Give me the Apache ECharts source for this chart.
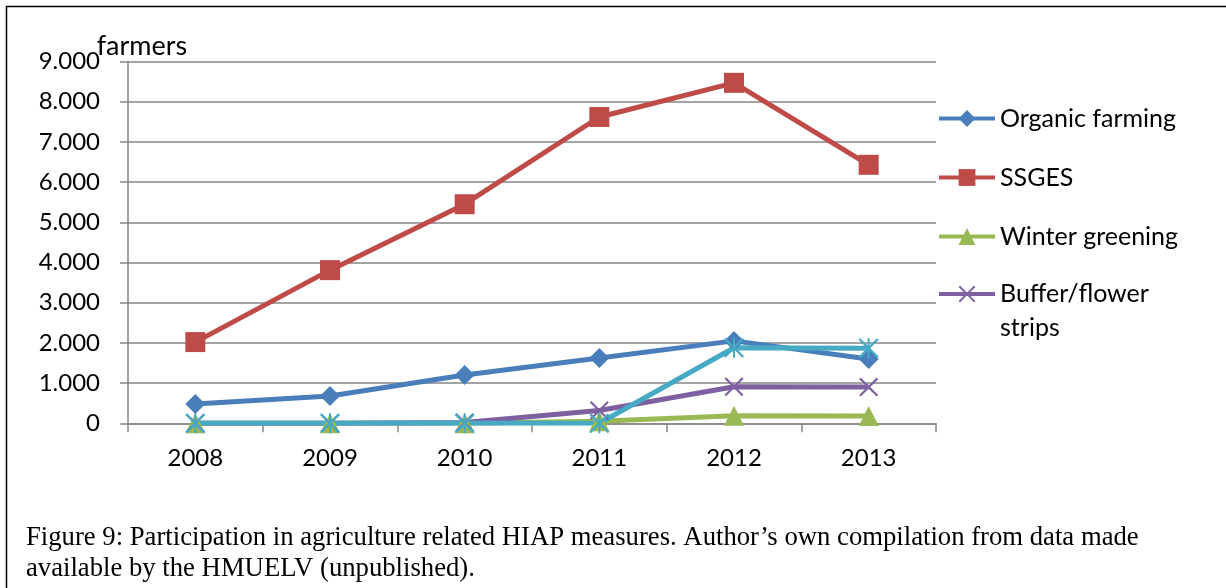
<!DOCTYPE html>
<html>
<head>
<meta charset="utf-8">
<script src="https://cdn.jsdelivr.net/npm/echarts@6/dist/echarts.min.js"></script>
<style>
html,body{margin:0;padding:0;background:#fff;}
#c{width:1226px;height:588px;}
</style>
</head>
<body>
<div id="c"></div>
<script>
const years = ['2008', '2009', '2010', '2011', '2012', '2013'];
const organicFarming = [480, 680, 1200, 1625, 2050, 1600];
const ssges = [2020, 3810, 5450, 7620, 8470, 6430];
const winterGreening = [0, 0, 0, 50, 190, 180];
const bufferStrips = [0, 0, 20, 320, 910, 900];
const fifthSeries = [0, 0, 0, 0, 1880, 1870];
const yTicks = [0, 1000, 2000, 3000, 4000, 5000, 6000, 7000, 8000, 9000];
const seriesNames = ['Organic farming', 'SSGES', 'Winter greening', 'Buffer/flower strips', 'Series 5'];
const captionLines = [
  'Figure 9: Participation in agriculture related HIAP measures. Author\u2019s own compilation from data made',
  'available by the HMUELV (unpublished).'
];

const FONT = 'Lato';
const xPath = 'path://M0,8L8,0L50,42L92,0L100,8L58,50L100,92L92,100L50,58L8,100L0,92L42,50Z';
const starPath = 'path://M0,8L8,0L50,42L92,0L100,8L58,50L100,92L92,100L50,58L8,100L0,92L42,50ZM45,0L55,0L55,100L45,100Z';

function fmt(v) {
  if (v === 0) return '0';
  const s = String(v);
  return s.slice(0, s.length - 3) + '.' + s.slice(s.length - 3);
}

const colors = ['#4A7EBB', '#BE4B48', '#98B954', '#7D60A0', '#46AAC5'];
const symbols = ['diamond', 'rect', 'triangle', xPath, starPath];
const sizes = [20, 20, 20, 19, 20];
const datasets = [organicFarming, ssges, winterGreening, bufferStrips, fifthSeries];

const legendCenters = [118, 177, 236, 294];
const legends = seriesNames.slice(0, 4).map((n, i) => {
  const multi = n === 'Buffer/flower strips';
  return {
    data: [n],
    left: 937,
    top: multi ? legendCenters[i] - 51 : legendCenters[i] - 12,
    padding: 0,
    orient: 'vertical',
    itemWidth: 56,
    itemHeight: 21,
    selectedMode: false,
    lineStyle: { width: 4 },
    formatter: multi ? '\nBuffer/flower\nstrips' : '{name}',
    textStyle: multi
      ? { fontFamily: FONT, fontSize: 25, color: '#000', lineHeight: 34 }
      : { fontFamily: FONT, fontSize: 25, color: '#000' }
  };
});

const option = {
  animation: false,
  backgroundColor: '#fff',
  grid: { left: 128, right: 290, top: 61.5, bottom: 164.7, containLabel: false },
  legend: legends,
  xAxis: {
    type: 'category',
    data: years,
    boundaryGap: true,
    axisLine: { show: true, lineStyle: { color: '#868686', width: 1.5 } },
    axisTick: { show: true, length: 9, lineStyle: { color: '#868686', width: 1.5 } },
    axisLabel: { fontFamily: FONT, fontSize: 24, color: '#000', margin: 23 },
    splitLine: { show: false }
  },
  yAxis: {
    type: 'value',
    min: 0,
    max: 9000,
    interval: 1000,
    name: 'farmers',
    nameLocation: 'end',
    nameGap: 2,
    nameMoveOverlap: false,
    nameTextStyle: { fontFamily: FONT, fontSize: 27, color: '#000', align: 'center', padding: [0, 0, 0, 28] },
    axisLine: { show: true, lineStyle: { color: '#868686', width: 1.5 } },
    axisTick: { show: true, length: 8, lineStyle: { color: '#868686', width: 1.5 } },
    axisLabel: {
      fontFamily: FONT, fontSize: 24, color: '#000', margin: 28,
      formatter: function (v) { return yTicks.indexOf(v) >= 0 ? fmt(v) : ''; }
    },
    splitLine: { show: true, lineStyle: { color: '#868686', width: 1.5 } }
  },
  series: datasets.map((d, i) => ({
    name: seriesNames[i],
    type: 'line',
    data: d,
    symbol: symbols[i],
    symbolSize: sizes[i],
    showAllSymbol: true,
    lineStyle: { color: colors[i], width: 5 },
    itemStyle: { color: colors[i] },
    emphasis: { disabled: true }
  })),
  graphic: [
    {
      type: 'rect',
      shape: { x: 6.5, y: 6.5, width: 1300, height: 700 },
      style: { fill: 'none', stroke: '#000', lineWidth: 1.5 },
      silent: true
    },
    {
      type: 'text',
      left: 26,
      top: 524,
      style: { text: captionLines[0], font: '26.7px "Liberation Serif"', fill: '#000' }
    },
    {
      type: 'text',
      left: 26,
      top: 555,
      style: { text: captionLines[1], font: '26.7px "Liberation Serif"', fill: '#000' }
    }
  ]
};

const chart = echarts.init(document.getElementById('c'));
chart.setOption(option);
</script>
</body>
</html>
